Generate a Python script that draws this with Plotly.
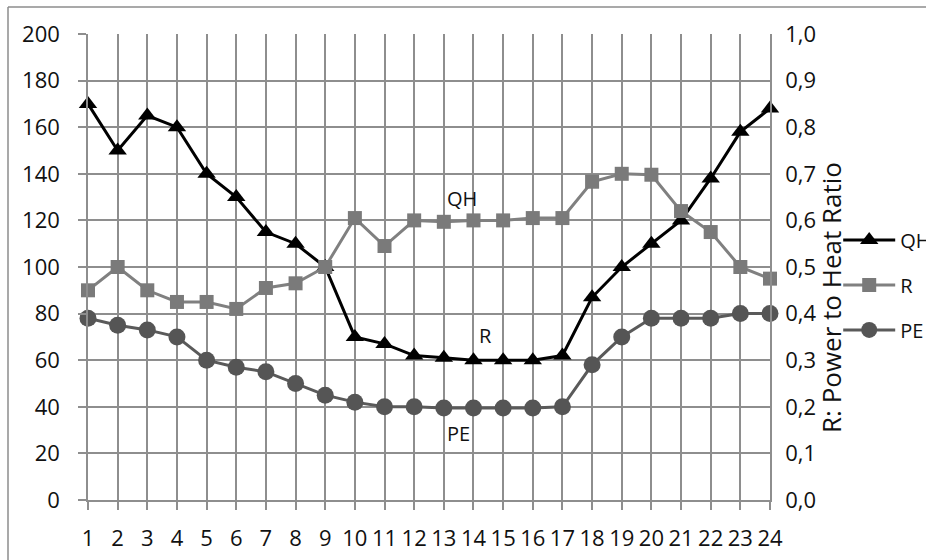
import plotly.graph_objects as go

# Hour of day
hours = [1, 2, 3, 4, 5, 6, 7, 8, 9, 10, 11, 12,
         13, 14, 15, 16, 17, 18, 19, 20, 21, 22, 23, 24]

# Heat demand QH (left axis)
qh = [170, 150, 165, 160, 140, 130, 115, 110, 100, 70, 67, 62,
      61, 60, 60, 60, 62, 87, 100, 110, 120, 138, 158, 168]

# Power to heat ratio R (right axis)
r_ratio = [0.45, 0.50, 0.45, 0.425, 0.425, 0.41, 0.455, 0.465, 0.50, 0.605, 0.545, 0.60,
           0.597, 0.60, 0.60, 0.605, 0.605, 0.683, 0.70, 0.698, 0.62, 0.575, 0.50, 0.475]

# Electric power PE (left axis)
pe = [78, 75, 73, 70, 60, 57, 55, 50, 45, 42, 40, 40,
      39.5, 39.5, 39.5, 39.5, 40, 58, 70, 78, 78, 78, 80, 80]

left_ticks = [0, 20, 40, 60, 80, 100, 120, 140, 160, 180, 200]
right_ticks = [0.0, 0.1, 0.2, 0.3, 0.4, 0.5, 0.6, 0.7, 0.8, 0.9, 1.0]

FONT = "Open Sans"
TXT = "#111111"
GRID = "#8e8e8e"

fig = go.Figure()

fig.add_trace(go.Scatter(
    x=hours, y=qh, name="QH", mode="lines+markers",
    line=dict(color="#000000", width=3),
    marker=dict(symbol="triangle-up", size=16, color="#000000"),
    cliponaxis=False, legendgroup="a",
))
fig.add_trace(go.Scatter(
    x=hours, y=r_ratio, name="R", mode="lines+markers", yaxis="y2",
    line=dict(color="#808080", width=3),
    marker=dict(symbol="square", size=14, color="#7a7a7a"),
    cliponaxis=False, legendgroup="b",
))
fig.add_trace(go.Scatter(
    x=hours, y=pe, name="PE", mode="lines+markers",
    line=dict(color="#5a5a5a", width=3),
    marker=dict(symbol="circle", size=17, color="#555555"),
    cliponaxis=False, legendgroup="c",
))

# Series name labels placed inside the plot
for txt, xv, yv in [("QH", 13.6, 129.5), ("R", 14.4, 70.5), ("PE", 13.5, 28.5)]:
    fig.add_annotation(x=xv, y=yv, xref="x", yref="y", text=txt, showarrow=False,
                       font=dict(family=FONT, size=20, color=TXT))

# Right axis title, set slightly below the axis middle
fig.add_annotation(x=1.0894, y=0.4356, xref="paper", yref="paper",
                   text="R: Power to Heat Ratio", textangle=-90, showarrow=False,
                   xanchor="center", yanchor="middle",
                   font=dict(family=FONT, size=26, color=TXT))

# Outer chart frame (top and left edges)
fig.add_shape(type="line", xref="paper", yref="paper",
              x0=-0.1173, x1=1.4, y0=1.058, y1=1.058,
              line=dict(color="#8c8c8c", width=1.5))
fig.add_shape(type="line", xref="paper", yref="paper",
              x0=-0.1173, x1=-0.1173, y0=1.058, y1=-0.3,
              line=dict(color="#8c8c8c", width=1.5))

fig.update_layout(
    width=926, height=560,
    margin=dict(l=88, r=156, t=34, b=60, autoexpand=False),
    paper_bgcolor="white", plot_bgcolor="white",
    separators=", ",
    font=dict(family=FONT, size=20, color=TXT),
    showlegend=True,
    legend=dict(x=1.1, y=0.6, xanchor="left", yanchor="top",
                font=dict(family=FONT, size=20, color=TXT),
                bgcolor="rgba(0,0,0,0)", borderwidth=0,
                tracegroupgap=16, itemwidth=52),
    xaxis=dict(
        range=[1, 24], tickvals=hours, ticktext=[str(h) for h in hours],
        showgrid=True, gridcolor=GRID, gridwidth=1.5,
        showline=True, linecolor=GRID, linewidth=1.5,
        ticks="outside", ticklen=8, tickcolor=GRID, tickwidth=1.5,
        zeroline=False, ticklabelstandoff=10,
        tickfont=dict(family=FONT, size=22, color=TXT),
    ),
    yaxis=dict(
        range=[0, 200], tickvals=left_ticks,
        showgrid=True, gridcolor=GRID, gridwidth=1.5,
        showline=True, linecolor=GRID, linewidth=1.5,
        ticks="outside", ticklen=8, tickcolor=GRID, tickwidth=1.5,
        zeroline=False, ticklabelstandoff=14,
        tickfont=dict(family=FONT, size=22, color=TXT),
    ),
    yaxis2=dict(
        range=[0, 1], tickvals=right_ticks, tickformat=".1f",
        overlaying="y", side="right",
        showgrid=False, showline=True, linecolor=GRID, linewidth=1.5,
        ticks="", zeroline=False, ticklabelstandoff=9,
        tickfont=dict(family=FONT, size=22, color=TXT),
    ),
)

fig.write_html("out.html")
